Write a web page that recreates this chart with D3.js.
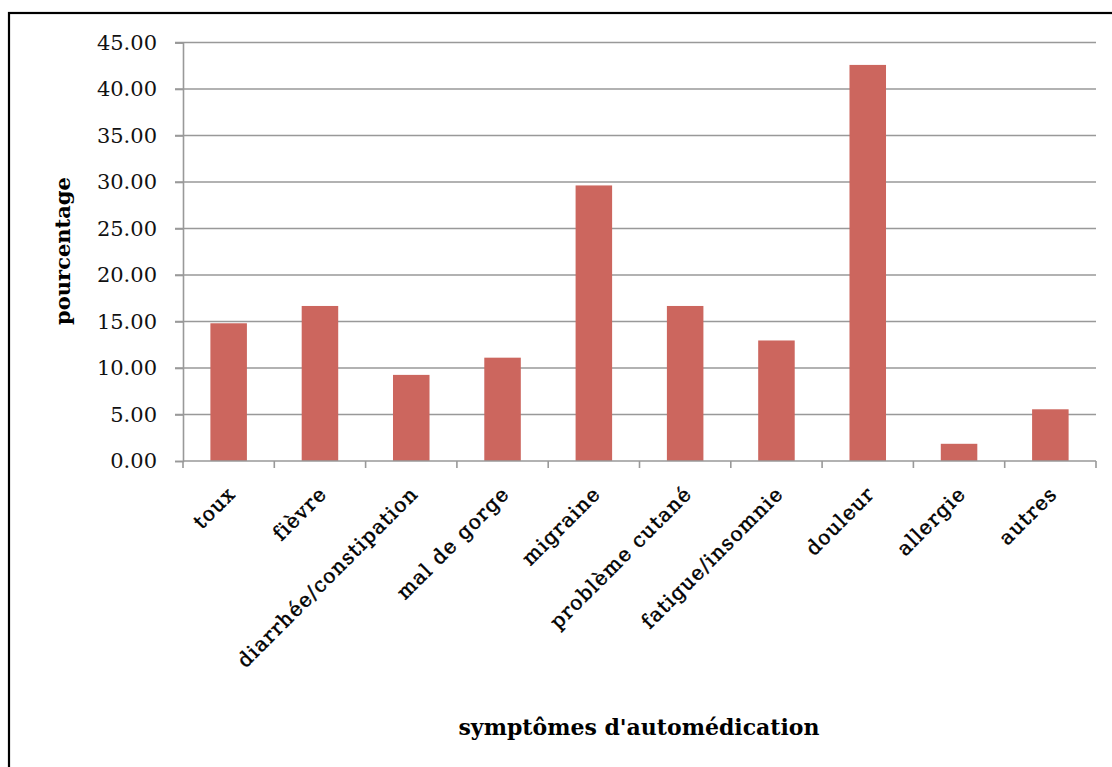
<!DOCTYPE html>
<html><head><meta charset="utf-8">
<script src="https://cdn.jsdelivr.net/npm/d3@7"></script>
<style>body{margin:0;background:#fff}</style>
</head><body>
<svg id="c" width="1112" height="767"></svg>
<script>
const categories = ["toux","fièvre","diarrhée/constipation","mal de gorge","migraine","problème cutané","fatigue/insomnie","douleur","allergie","autres"];
const values = [14.81,16.67,9.26,11.11,29.63,16.67,12.96,42.59,1.85,5.56];
const yTicks = [0,5,10,15,20,25,30,35,40,45];
const xTitle = "symptômes d'automédication";
const yTitle = "pourcentage";

const svg = d3.select("#c");
svg.append("rect").attr("x",9).attr("y",13).attr("width",1110).attr("height",760)
  .attr("fill","#fff").attr("stroke","#000").attr("stroke-width",2.2);

const pLeft=183, pRight=1096, pTop=42.5, pBottom=461;
const x = d3.scaleBand().domain(categories).range([pLeft,pRight]).paddingInner(0.6).paddingOuter(0.3);
const y = d3.scaleLinear().domain([0,45]).range([pBottom,pTop]);
const serif = "'DejaVu Serif', serif";

// gridlines
svg.append("g").selectAll("line").data(yTicks.filter(d=>d>0)).join("line")
  .attr("x1",pLeft-8).attr("x2",pRight).attr("y1",d=>y(d)).attr("y2",d=>y(d))
  .attr("stroke","#999").attr("stroke-width",1.6);

// bars
svg.append("g").selectAll("rect").data(values).join("rect")
  .attr("x",(d,i)=>x(categories[i])).attr("width",x.bandwidth())
  .attr("y",d=>y(d)).attr("height",d=>pBottom-y(d))
  .attr("fill","#cc665e");

// y axis
const yAxis = d3.axisLeft(y).tickValues(yTicks).tickFormat(d3.format(".2f")).tickSize(8).tickPadding(18);
const gy = svg.append("g").attr("transform",`translate(${pLeft},0)`).call(yAxis);
gy.select(".domain").attr("stroke","#999").attr("stroke-width",1.6);
gy.selectAll(".tick line").attr("stroke","#999").attr("stroke-width",1.6);
gy.selectAll("text").attr("font-family",serif).attr("font-size",21).attr("fill","#111");

// x axis
const bounds = d3.range(categories.length+1).map(i=>pLeft+i*(pRight-pLeft)/categories.length);
svg.append("line").attr("x1",pLeft).attr("x2",pRight).attr("y1",pBottom).attr("y2",pBottom)
  .attr("stroke","#999").attr("stroke-width",1.6);
svg.append("g").selectAll("line").data(bounds).join("line")
  .attr("x1",d=>d).attr("x2",d=>d).attr("y1",pBottom).attr("y2",pBottom+7)
  .attr("stroke","#999").attr("stroke-width",1.6);

svg.append("g").selectAll("text").data(categories).join("text")
  .attr("transform",d=>`translate(${x(d)+x.bandwidth()/2+8},${pBottom+34}) rotate(-45)`)
  .attr("text-anchor","end")
  .attr("font-family",serif).attr("font-size",20).attr("fill","#000")
  .attr("stroke","#000").attr("stroke-width",0.5)
  .attr("letter-spacing",1.3)
  .text(d=>d);

// titles
svg.append("text").attr("x",639).attr("y",735).attr("text-anchor","middle")
  .attr("font-family",serif).attr("font-weight","bold").attr("font-size",22)
  .text(xTitle);
svg.append("text").attr("transform",`translate(70,251) rotate(-90)`).attr("text-anchor","middle")
  .attr("font-family",serif).attr("font-weight","bold").attr("font-size",21)
  .text(yTitle);
</script>
</body></html>
